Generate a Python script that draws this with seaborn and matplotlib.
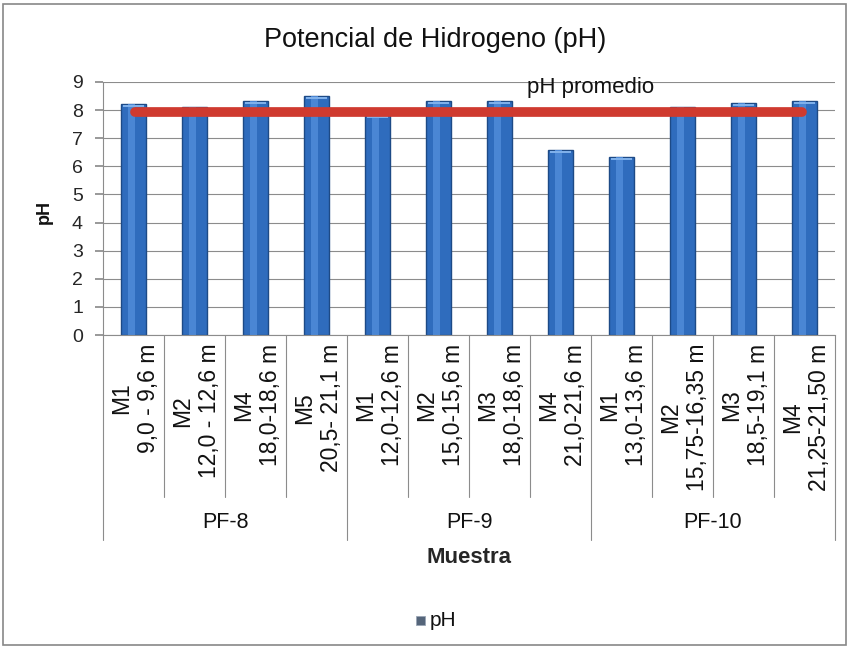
import matplotlib
matplotlib.use("Agg")
import matplotlib.pyplot as plt
import seaborn as sns
import pandas as pd
from matplotlib.patches import Rectangle
from matplotlib.lines import Line2D

# ---- data ----
grupos = ["PF-8", "PF-9", "PF-10"]
grupo_de_muestra = ["PF-8", "PF-8", "PF-8", "PF-8",
                    "PF-9", "PF-9", "PF-9", "PF-9",
                    "PF-10", "PF-10", "PF-10", "PF-10"]
muestras = ["M1\n9,0 - 9,6 m", "M2\n12,0 - 12,6 m", "M4\n18,0-18,6 m", "M5\n20,5- 21,1 m",
            "M1\n12,0-12,6 m", "M2\n15,0-15,6 m", "M3\n18,0-18,6 m", "M4\n21,0-21,6 m",
            "M1\n13,0-13,6 m", "M2\n15,75-16,35 m", "M3\n18,5-19,1 m", "M4\n21,25-21,50 m"]
ph_valores = [8.22, 8.11, 8.33, 8.50, 7.83, 8.33, 8.33, 6.58, 6.33, 8.11, 8.25, 8.33]
ph_promedio = 7.94
y_ticks = [0, 1, 2, 3, 4, 5, 6, 7, 8, 9]

df = pd.DataFrame({"Muestra": muestras, "pH": ph_valores, "Grupo": grupo_de_muestra})

sns.set_theme(style="white")
plt.rcParams["font.family"] = ["Liberation Sans", "DejaVu Sans"]

fig = plt.figure(figsize=(8.5, 6.48), dpi=100)
ax = fig.add_axes([103 / 850, 1 - 335 / 648, (835 - 103) / 850, (335 - 82) / 648])

sns.barplot(data=df, x="Muestra", y="pH", order=muestras, color="#2f6cbd",
            width=0.42, edgecolor="#1d4a86", linewidth=1.0, ax=ax, saturation=1)

# highlight on bars
for p in ax.patches:
    x0 = p.get_x(); w = p.get_width(); h = p.get_height()
    ax.add_patch(Rectangle((x0 + w * 0.3, 0), w * 0.25, h, color="#4a86d4", lw=0, zorder=p.get_zorder() + 0.1))
    ax.add_patch(Rectangle((x0 + w * 0.08, h - 0.12), w * 0.84, 0.08, color="#7fb0ea", lw=0, zorder=p.get_zorder() + 0.2))

n = len(muestras)
ax.set_xlim(-0.5, n - 0.5)
ax.set_ylim(0, 9)
ax.set_yticks(y_ticks)
ax.tick_params(axis="y", labelsize=14, length=5.8, color="#8c8c8c", direction="out", pad=8.6, left=True)
ax.tick_params(axis="x", bottom=False, labelbottom=False)
ax.set_xlabel("")
ax.set_ylabel("")
fig.text(44 / 850, 1 - 212 / 648, "pH", rotation=90, ha="center", va="center",
         fontsize=13, fontweight="bold", color="#111111")
ax.yaxis.grid(True, color="#8c8c8c", linewidth=0.8)
ax.set_axisbelow(True)
for s in ["top", "right"]:
    ax.spines[s].set_visible(False)
ax.spines["left"].set_color("#8c8c8c")
ax.spines["bottom"].set_color("#8c8c8c")
ax.spines["left"].set_linewidth(0.8)
ax.spines["bottom"].set_linewidth(0.8)

# average line
ax.plot([0.02, n - 1 - 0.04], [ph_promedio, ph_promedio], color="#cf3a2f", lw=7,
        solid_capstyle="round", zorder=5)
ax.text(7.5, 8.79, "pH promedio", fontsize=16, ha="center", va="center", color="#111111", zorder=6)

# category labels and separators below the axis
trans = ax.get_xaxis_transform()
for i, lab in enumerate(muestras):
    ax.text(i + 0.02, -0.035, lab, rotation=90, ha="center", va="top", multialignment="center",
            fontsize=16.5, transform=trans, clip_on=False, color="#111111", linespacing=1.2)
group_bounds = []
start = 0
for g in grupos:
    cnt = grupo_de_muestra.count(g)
    ax.text(start + (cnt - 1) / 2, -0.74, g, ha="center", va="center", fontsize=15.5,
            transform=trans, clip_on=False, color="#111111")
    group_bounds.append((start, start + cnt))
    start += cnt
for i in range(n + 1):
    is_group = any(i == a or i == b for a, b in group_bounds)
    y_end = -0.81 if is_group else -0.64
    ax.add_line(Line2D([i - 0.5, i - 0.5], [0, y_end], transform=trans, color="#8c8c8c",
                       lw=0.8, clip_on=False))

ax.text(0.5, -0.88, "Muestra", ha="center", va="center", fontsize=16, fontweight="bold",
        transform=ax.transAxes, clip_on=False)

fig.text(435 / 850, 1 - 40 / 648, "Potencial de Hidrogeno (pH)", ha="center", va="center",
         fontsize=19.5, color="#111111")

# legend
fig.patches.append(Rectangle((416 / 850, 1 - 625 / 648), 9 / 850, 9 / 648, transform=fig.transFigure,
                             facecolor="#55657a", edgecolor="#9aa6b5", lw=0.6))
fig.text(430 / 850, 1 - 620 / 648, "pH", ha="left", va="center", fontsize=15, color="#111111")

# outer border
fig.patches.append(Rectangle((3 / 850, 3 / 648), 843 / 850, 641 / 648, transform=fig.transFigure,
                             fill=False, edgecolor="#888888", lw=1.2))

fig.savefig("out.png", dpi=100)
